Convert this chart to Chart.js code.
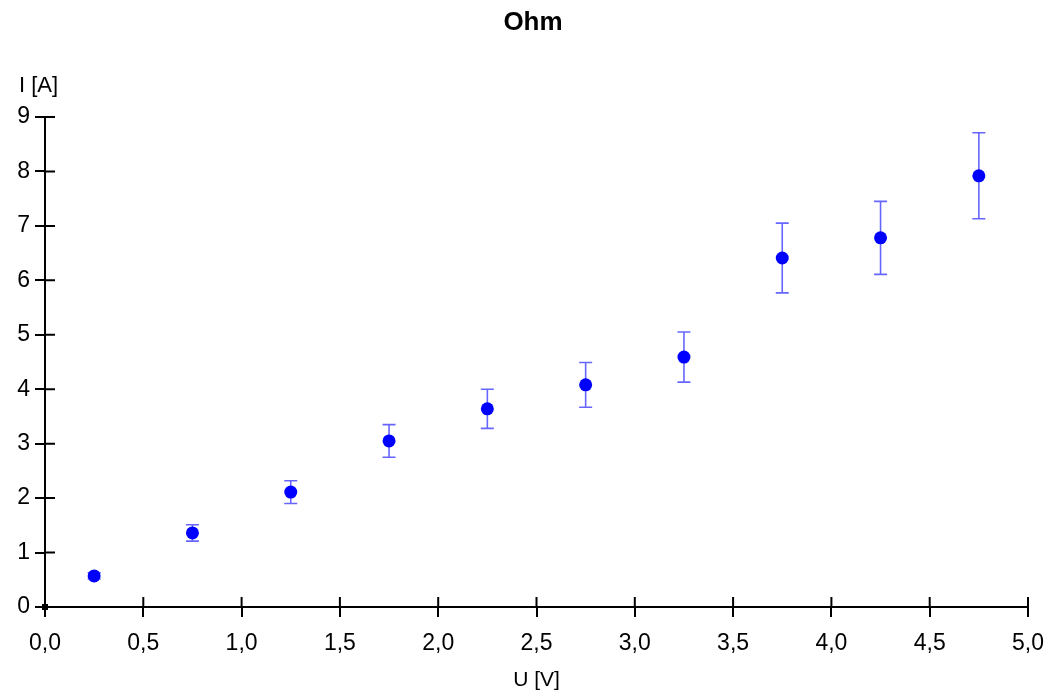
<!DOCTYPE html>
<html>
<head>
<meta charset="utf-8">
<script src="https://cdn.jsdelivr.net/npm/chart.js@4"></script>
<style>
html,body{margin:0;padding:0;background:#fff;}
#wrap{width:1053px;height:697px;position:relative;}
</style>
</head>
<body>
<div id="wrap"><canvas id="c" width="1053" height="697"></canvas></div>
<script>
const titleText = "Ohm";
const xAxisLabel = "U [V]";
const yAxisLabel = "I [A]";
const uValues = [0.25, 0.75, 1.25, 1.75, 2.25, 2.75, 3.25, 3.75, 4.25, 4.75];
const iValues = [0.57, 1.36, 2.11, 3.05, 3.64, 4.08, 4.59, 6.41, 6.78, 7.92];
const iErrors = [0.057, 0.15, 0.21, 0.30, 0.36, 0.41, 0.46, 0.64, 0.67, 0.79];
const xTickValues = [0, 0.5, 1, 1.5, 2, 2.5, 3, 3.5, 4, 4.5, 5];
const xTickLabels = ["0,0","0,5","1,0","1,5","2,0","2,5","3,0","3,5","4,0","4,5","5,0"];
const yTickValues = [0,1,2,3,4,5,6,7,8,9];
const yTickLabels = ["0","1","2","3","4","5","6","7","8","9"];

const FONT = "'Liberation Sans', Arial, sans-serif";

const points = uValues.map((u, k) => ({x: u, y: iValues[k]}));

const overlay = {
  id: 'overlay',
  beforeDatasetsDraw(chart) {
    const ctx = chart.ctx;
    const xs = chart.scales.x, ys = chart.scales.y;
    ctx.save();
    ctx.strokeStyle = 'rgba(0,0,255,0.6)';
    ctx.lineWidth = 1.6;
    uValues.forEach((u, k) => {
      const px = xs.getPixelForValue(u);
      const top = ys.getPixelForValue(iValues[k] + iErrors[k]);
      const bot = ys.getPixelForValue(iValues[k] - iErrors[k]);
      ctx.beginPath();
      ctx.moveTo(px, top); ctx.lineTo(px, bot);
      ctx.moveTo(px - 6.5, top); ctx.lineTo(px + 6.5, top);
      ctx.moveTo(px - 6.5, bot); ctx.lineTo(px + 6.5, bot);
      ctx.stroke();
    });
    ctx.restore();
  },
  afterDraw(chart) {
    const ctx = chart.ctx;
    const xs = chart.scales.x, ys = chart.scales.y;
    const ax = xs.getPixelForValue(0), ay = ys.getPixelForValue(0);
    ctx.save();
    ctx.strokeStyle = '#000';
    ctx.lineWidth = 2;
    ctx.beginPath();
    xTickValues.forEach(v => { const p = xs.getPixelForValue(v); ctx.moveTo(p, ay); ctx.lineTo(p, ay - 10); });
    yTickValues.forEach(v => { const p = ys.getPixelForValue(v); ctx.moveTo(ax, p); ctx.lineTo(ax + 10, p); });
    ctx.stroke();
    ctx.fillStyle = '#000';
    ctx.fillRect(ax - 3, ay - 3, 6, 6);
    ctx.textAlign = 'center';
    ctx.textBaseline = 'middle';
    ctx.font = 'bold 26px ' + FONT;
    ctx.fillText(titleText, 533, 23);
    ctx.font = '21px ' + FONT;
    ctx.fillText(xAxisLabel, (chart.chartArea.left + chart.chartArea.right) / 2, 680);
    ctx.textAlign = 'left';
    ctx.font = '22px ' + FONT;
    ctx.fillText(yAxisLabel, 19, 86);
    ctx.restore();
  }
};

new Chart(document.getElementById('c'), {
  type: 'scatter',
  data: {
    datasets: [{
      data: points,
      backgroundColor: '#0000ff',
      borderColor: '#0000ff',
      pointRadius: 6.5,
      pointHoverRadius: 6.5,
      borderWidth: 0
    }]
  },
  options: {
    responsive: false,
    animation: false,
    devicePixelRatio: 1,
    layout: { padding: { top: 117, right: 25, left: 0, bottom: 0 } },
    plugins: { legend: { display: false }, title: { display: false }, tooltip: { enabled: false } },
    scales: {
      x: {
        type: 'linear', min: 0, max: 5,
        afterFit(s) { s.height = 90; s.paddingLeft = 0; s.paddingRight = 0; },
        afterBuildTicks(s) { s.ticks = xTickValues.map(v => ({value: v})); },
        ticks: {
          color: '#000', font: { family: FONT, size: 23 }, padding: 13, maxRotation: 0,
          callback: (v) => { const k = xTickValues.indexOf(v); return k >= 0 ? xTickLabels[k] : ''; }
        },
        grid: { drawOnChartArea: false, drawTicks: true, tickLength: 10, color: '#000', lineWidth: 2 },
        border: { display: true, color: '#000', width: 2 }
      },
      y: {
        type: 'linear', min: 0, max: 9,
        afterFit(s) { s.width = 45; s.paddingTop = 0; s.paddingBottom = 0; },
        afterBuildTicks(s) { s.ticks = yTickValues.map(v => ({value: v})); },
        ticks: {
          color: '#000', font: { family: FONT, size: 23 }, padding: 5,
          callback: (v) => { const k = yTickValues.indexOf(v); return k >= 0 ? yTickLabels[k] : ''; }
        },
        grid: { drawOnChartArea: false, drawTicks: true, tickLength: 10, color: '#000', lineWidth: 2 },
        border: { display: true, color: '#000', width: 2 }
      }
    }
  },
  plugins: [overlay]
});
</script>
</body>
</html>
